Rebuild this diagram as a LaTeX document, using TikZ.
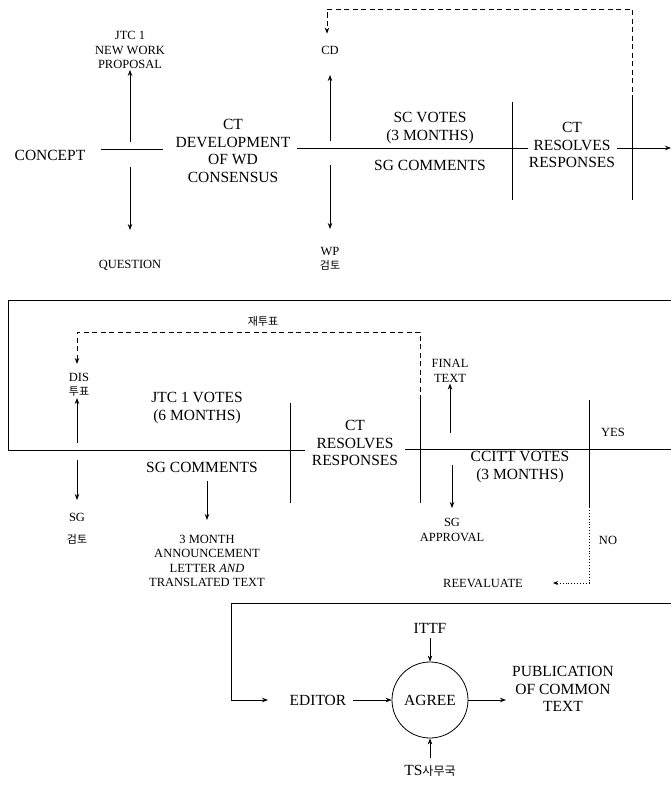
\documentclass[tikz,border=0pt]{standalone}
\usepackage{fontspec}
\setmainfont{Liberation Serif}
\newfontfamily\kor{Noto Sans CJK KR}
\usetikzlibrary{arrows.meta,positioning}

\begin{document}
\begin{tikzpicture}[
  x=1pt,
  y=-1pt,
  big/.style={align=center, inner sep=1pt, font=\fontsize{15.5}{17.5}\selectfont},
  sml/.style={align=center, inner sep=1pt, font=\fontsize{12.5}{14.5}\selectfont},
  flow/.style={line width=0.9pt},
  flowarr/.style={line width=0.8pt, -{Stealth[length=6pt,width=4.5pt]}},
  retarr/.style={line width=0.8pt, dash pattern=on 5pt off 3.5pt, -{Stealth[length=6pt,width=4.5pt]}},
  noarr/.style={line width=0.9pt, dotted, -{Stealth[length=5pt,width=4pt]}},
  agreebox/.style={draw, circle, line width=0.8pt, minimum size=76pt, inner sep=0pt}
]
  \useasboundingbox (0,0) rectangle (671,787);

  % first row
  \node[big] (concept) at (50,155) {CONCEPT};
  \node[sml] (jtcnwp) at (130,50) {JTC 1\\NEW WORK\\PROPOSAL};
  \node[sml] (question) at (130,265) {QUESTION};
  \node[big] (ctdev) at (233,151) {CT\\DEVELOPMENT\\OF WD\\CONSENSUS};
  \node[sml] (cd) at (330,50) {CD};
  \node[sml] (wp) at (330,259) {WP\\{\kor\fontsize{11}{14.5}\selectfont 검토}};
  \node[big] (scvotes) at (430,128) {SC VOTES\\(3 MONTHS)};
  \node[big] (sgcom1) at (430,165) {SG COMMENTS};
  \node[big] (ctres1) at (572,145) {CT\\RESOLVES\\RESPONSES};

  \coordinate (p1) at (130,149);
  \coordinate (p2) at (330,148);
  \coordinate (qtip) at (130,230);
  \coordinate (cdtip) at (330,75);
  \coordinate (wptip) at (330,229);
  \coordinate (b1t) at (512,102);
  \coordinate (b1b) at (512,200);
  \coordinate (b2t) at (632,100);
  \coordinate (b2b) at (632,200);
  \coordinate (r1) at (671,148);

  \draw[flow] ([xshift=14pt]concept.east |- p1) -- ([xshift=-12pt]ctdev.west |- p1);
  \draw[flowarr] (p1) ++(0,-7) -- (jtcnwp.south);
  \draw[flowarr] (p1) ++(0,18) -- (qtip);
  \draw[flow] ([xshift=6pt]ctdev.east |- p2) -- (ctres1.west |- p2);
  \draw[flowarr] (p2) ++(0,-7) -- (cdtip);
  \draw[flowarr] (p2) ++(0,17) -- (wptip);
  \draw[flow] (b1t) -- (b1b);
  \draw[flow] (b2t) -- (b2b);
  \draw[retarr, shorten >=11pt] (b2t) -- ++(0,-91) -| ([xshift=-3pt]cd.north);
  \draw[flowarr] ([xshift=1pt]ctres1.east |- r1) -- (r1);

  % second row
  \node[sml] (revote) at (263,321) {\kor\fontsize{11}{14}\selectfont 재투표};
  \node[sml] (dis) at (79,385) {DIS\\{\kor\fontsize{11}{14.5}\selectfont 투표}};
  \node[sml, font=\fontsize{12.5}{22}\selectfont] (sgrev) at (77,529) {SG\\{\kor\fontsize{11}{22}\selectfont 검토}};
  \node[big] (jtcvotes) at (197,408) {JTC 1 VOTES\\(6 MONTHS)};
  \node[big] (sgcom2) at (202,467) {SG COMMENTS};
  \node[sml] (announce) at (207,561) {3 MONTH\\ANNOUNCEMENT\\LETTER \textit{AND}\\TRANSLATED TEXT};
  \node[big] (ctres2) at (355,443) {CT\\RESOLVES\\RESPONSES};
  \node[sml] (final) at (450,371) {FINAL\\TEXT};
  \node[sml] (approval) at (452,530) {SG\\APPROVAL};
  \node[big] (ccitt) at (520,467) {CCITT VOTES\\(3 MONTHS)};
  \node[sml] (yes) at (613,432) {YES};
  \node[sml] (no) at (608,540) {NO};
  \node[sml] (reeval) at (483,583) {REEVALUATE};

  \coordinate (m0) at (671,300);
  \coordinate (m1) at (8,300);
  \coordinate (m2) at (8,450);
  \coordinate (m3) at (77,450);
  \coordinate (m4) at (671,449);
  \coordinate (sgtip) at (77,500);
  \coordinate (anntip) at (207,520);
  \coordinate (fin0) at (450,433);
  \coordinate (apptip) at (452,508);
  \coordinate (b3t) at (290,403);
  \coordinate (b3b) at (290,503);
  \coordinate (b4t) at (420,400);
  \coordinate (b4b) at (420,503);
  \coordinate (b5t) at (589,400);
  \coordinate (b5b) at (589,507);
  \coordinate (retip) at (553,583);

  \draw[flow] (m0) -- (m1) -- (m2) -- ([xshift=-6pt]ctres2.west |- m2);
  \draw[flow] ([xshift=6pt]ctres2.east |- m4) -- (m4);
  \draw[flow] (b3t) -- (b3b);
  \draw[flow] (b4t) -- (b4b);
  \draw[flow] (b5t) -- (b5b);
  \draw[retarr, shorten >=8pt] (b4t) -- ++(0,-68) -| ([xshift=-2pt]dis.north);
  \draw[flowarr] (m3) ++(0,-7) -- (m3 |- dis.south);
  \draw[flowarr] (m3) ++(0,10) -- (sgtip);
  \draw[flowarr] ([yshift=-8pt]sgcom2.south -| anntip) -- (anntip);
  \draw[flowarr] (fin0) -- (final.south);
  \draw[flowarr] (fin0) ++(2,32) -- (apptip);
  \draw[noarr] (b5b) -- (b5b |- retip) -- (retip);

  % third row
  \node[big] (editor) at (318,700) {EDITOR};
  \node[big, agreebox] (agree) at (430,700) {AGREE};
  \node[big] (ittf) at (430,628) {ITTF};
  \node[big] (ts) at (430,771) {TS{\kor\fontsize{12}{14}\selectfont 사무국}};
  \node[big] (pub) at (563,689) {PUBLICATION\\OF COMMON\\TEXT};

  \coordinate (e0) at (671,603);
  \coordinate (e1) at (231,603);
  \coordinate (edtip) at (268,700);

  \draw[flowarr] (e0) -- (e1) |- (edtip);
  \draw[flowarr, shorten <=6pt] (editor) -- (agree);
  \draw[flowarr, shorten <=4pt] (ittf) -- (agree);
  \draw[flowarr, shorten <=6pt] (ts) -- (agree);
  \draw[flowarr, shorten >=5pt] (agree) -- (pub.west |- agree);
\end{tikzpicture}
\end{document}
